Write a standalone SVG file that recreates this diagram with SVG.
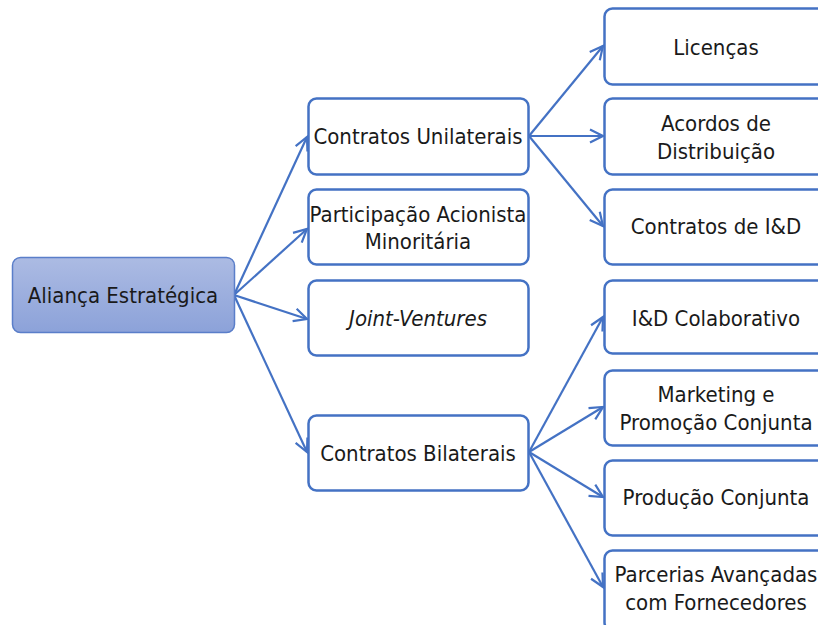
<svg xmlns="http://www.w3.org/2000/svg" width="818" height="625" viewBox="0 0 818 625">
  <style>
    .box { fill: #ffffff; stroke: #4472c4; stroke-width: 2.5; }
    .root { fill: url(#rootFill); stroke: #5a7ec9; stroke-width: 1.5; }
    .lbl { font-family: "Liberation Sans Narrow", "DejaVu Sans Condensed", "Liberation Sans", sans-serif; font-size: 22px; fill: #1a1a1a; text-anchor: middle; }
    .edge { fill: none; stroke: #4472c4; stroke-width: 2.2; marker-end: url(#arrow); }
  </style>
  <defs>
    <linearGradient id="rootFill" x1="0" y1="0" x2="0" y2="1">
      <stop offset="0" stop-color="#acbbe3"/>
      <stop offset="1" stop-color="#8ca2d9"/>
    </linearGradient>
    <marker id="arrow" markerUnits="userSpaceOnUse" markerWidth="16" markerHeight="16" refX="14" refY="8" orient="auto">
      <path d="M1,1.5 L14,8 L1,14.5" fill="none" stroke="#4472c4" stroke-width="2.2" stroke-linejoin="miter"/>
    </marker>
  </defs>

  <rect width="818" height="625" fill="#ffffff"/>

  <!-- connectors -->
  <g id="connectors">
    <line class="edge" x1="234" y1="295" x2="307" y2="137"/>
    <line class="edge" x1="234" y1="295" x2="307" y2="229"/>
    <line class="edge" x1="234" y1="295" x2="307" y2="319"/>
    <line class="edge" x1="234" y1="295" x2="307" y2="452"/>
    <line class="edge" x1="529" y1="136" x2="603" y2="46"/>
    <line class="edge" x1="529" y1="136" x2="603" y2="136"/>
    <line class="edge" x1="529" y1="136" x2="603" y2="226"/>
    <line class="edge" x1="529" y1="452" x2="603" y2="317"/>
    <line class="edge" x1="529" y1="452" x2="603" y2="407"/>
    <line class="edge" x1="529" y1="452" x2="603" y2="497"/>
    <line class="edge" x1="529" y1="452" x2="603" y2="587"/>
  </g>

  <!-- root -->
  <g id="alianca">
    <rect class="root" x="12.5" y="257.5" width="222" height="75" rx="8"/>
    <text class="lbl" x="123" y="303">Aliança Estratégica</text>
  </g>

  <!-- second level -->
  <g id="unilaterais">
    <rect class="box" x="308.5" y="98.5" width="220" height="76" rx="8"/>
    <text class="lbl" x="418" y="144">Contratos Unilaterais</text>
  </g>
  <g id="participacao">
    <rect class="box" x="308.5" y="189.5" width="220" height="75" rx="8"/>
    <text class="lbl" x="418" y="222">Participação Acionista</text>
    <text class="lbl" x="418" y="249">Minoritária</text>
  </g>
  <g id="joint">
    <rect class="box" x="308.5" y="280.5" width="220" height="75" rx="8"/>
    <text class="lbl" x="418" y="326" font-style="italic">Joint-Ventures</text>
  </g>
  <g id="bilaterais">
    <rect class="box" x="308.5" y="415.5" width="220" height="75" rx="8"/>
    <text class="lbl" x="418" y="461">Contratos Bilaterais</text>
  </g>

  <!-- third level -->
  <g id="licencas">
    <rect class="box" x="604.5" y="8.5" width="230" height="76" rx="8"/>
    <text class="lbl" x="716" y="55">Licenças</text>
  </g>
  <g id="acordos">
    <rect class="box" x="604.5" y="98.5" width="230" height="76" rx="8"/>
    <text class="lbl" x="716" y="131">Acordos de</text>
    <text class="lbl" x="716" y="159">Distribuição</text>
  </g>
  <g id="contratos-id">
    <rect class="box" x="604.5" y="189.5" width="230" height="75" rx="8"/>
    <text class="lbl" x="716" y="234">Contratos de I&amp;D</text>
  </g>
  <g id="id-colaborativo">
    <rect class="box" x="604.5" y="280.5" width="230" height="73" rx="8"/>
    <text class="lbl" x="716" y="326">I&amp;D Colaborativo</text>
  </g>
  <g id="marketing">
    <rect class="box" x="604.5" y="370.5" width="230" height="75" rx="8"/>
    <text class="lbl" x="716" y="402">Marketing e</text>
    <text class="lbl" x="716" y="430">Promoção Conjunta</text>
  </g>
  <g id="producao">
    <rect class="box" x="604.5" y="460.5" width="230" height="75" rx="8"/>
    <text class="lbl" x="716" y="505">Produção Conjunta</text>
  </g>
  <g id="parcerias">
    <rect class="box" x="604.5" y="550.5" width="230" height="80" rx="8"/>
    <text class="lbl" x="716" y="582">Parcerias Avançadas</text>
    <text class="lbl" x="716" y="610">com Fornecedores</text>
  </g>
</svg>
